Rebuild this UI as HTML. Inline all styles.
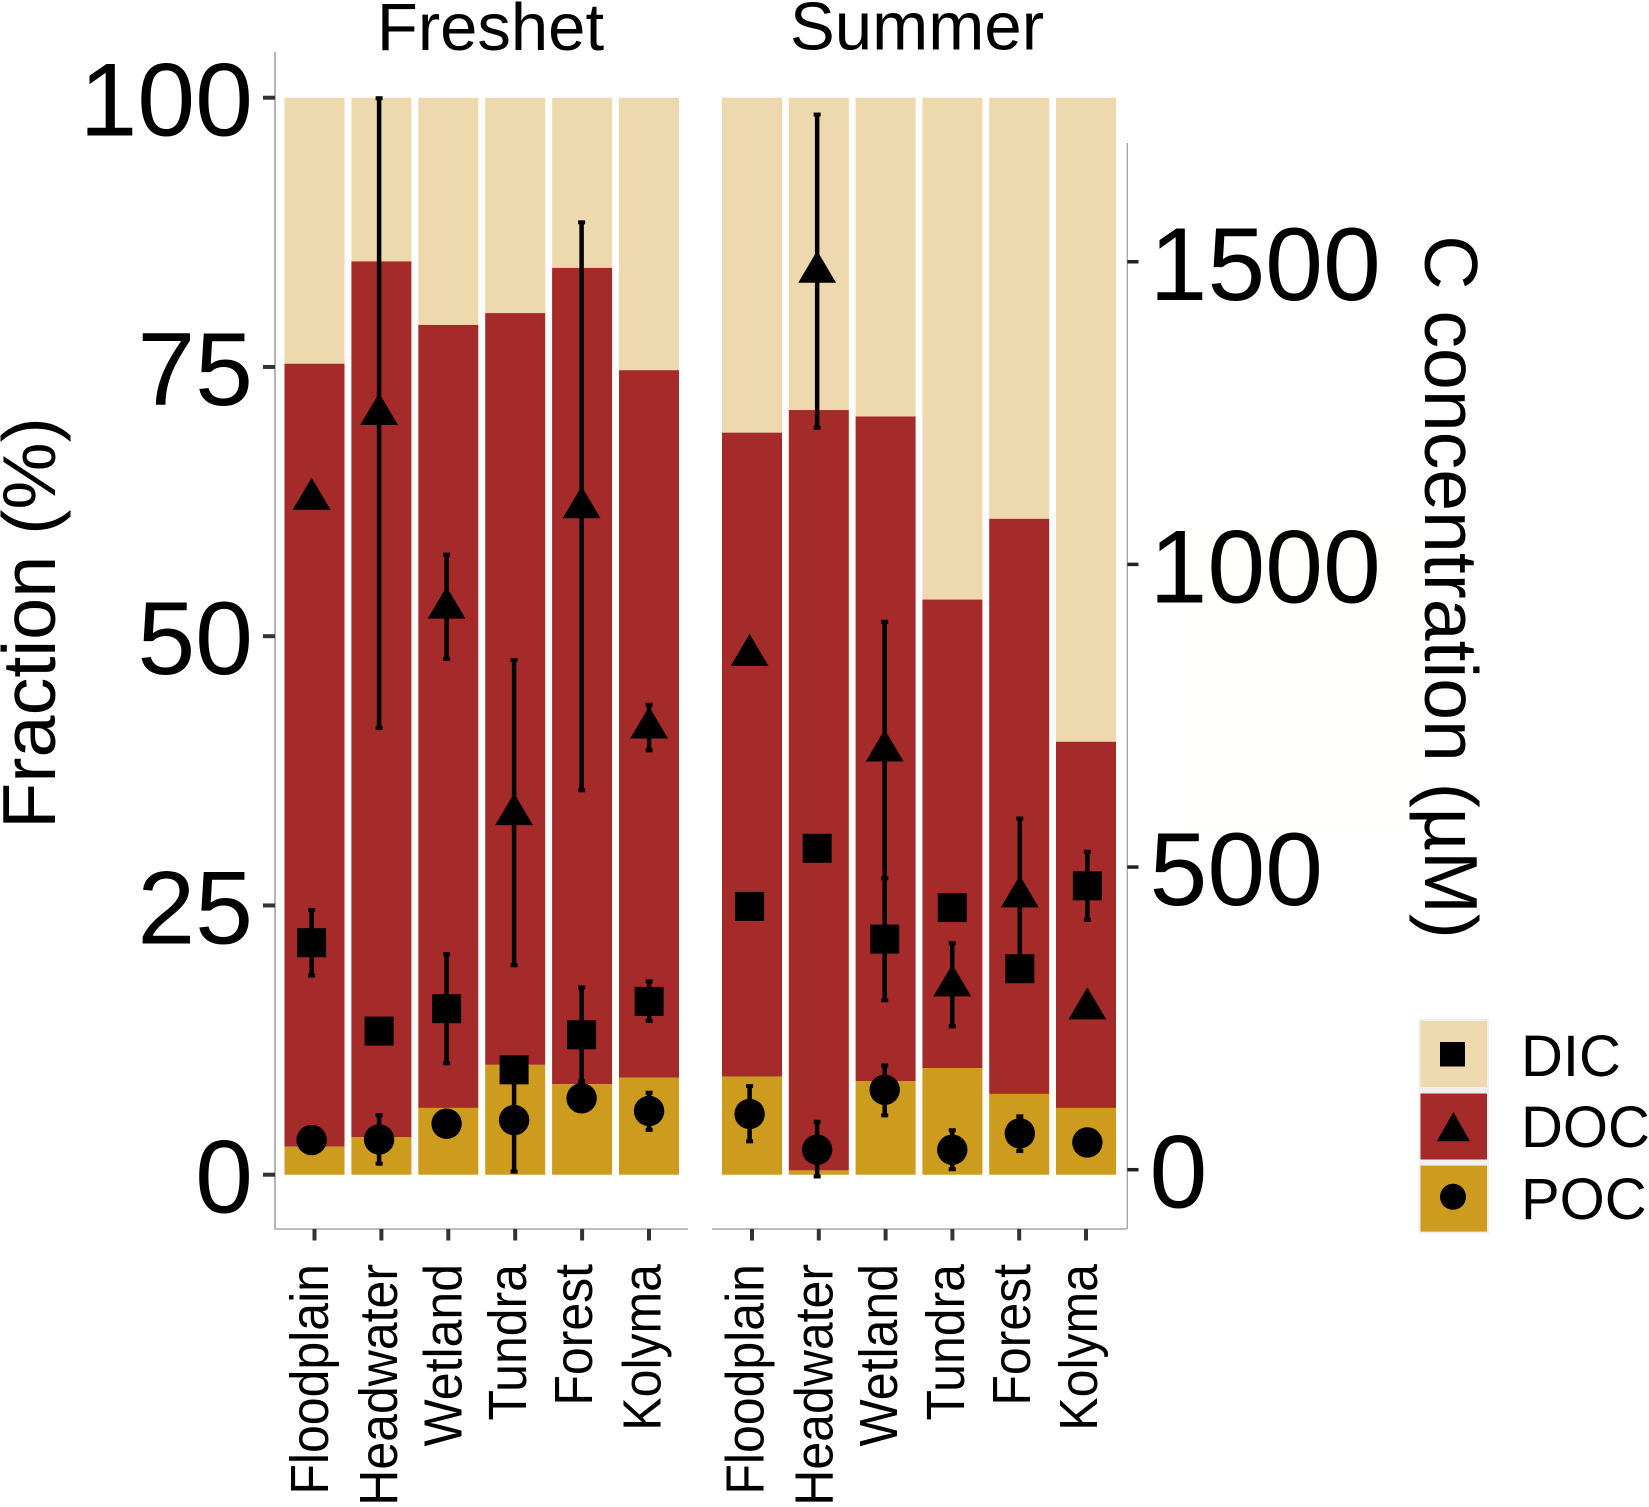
<!DOCTYPE html>
<html lang="en">
<head>
<meta charset="utf-8">
<title>Carbon fractions and concentrations, Freshet and Summer</title>
<style>
html,body{margin:0;padding:0;background:#fff;}
body{width:1649px;height:1507px;overflow:hidden;}
svg{display:block;}
text{font-family:"Liberation Sans",Arial,sans-serif;fill:#000;}
</style>
</head>
<body>
<svg id="chart" xmlns="http://www.w3.org/2000/svg" width="1649" height="1507" viewBox="0 0 1649 1507">
  <rect x="0" y="0" width="1649" height="1507" fill="#ffffff"/>
  <rect x="1183" y="525" width="227" height="305" fill="#fffffc"/>
  <g id="bars"></g>
  <g id="axes">
    <line x1="275" y1="52" x2="275" y2="1229.5" stroke="#b5b5b5" stroke-width="2"/>
    <line x1="275" y1="1229" x2="688" y2="1229" stroke="#a8a8a8" stroke-width="1.6"/>
    <line x1="712" y1="1229" x2="1127" y2="1229" stroke="#a8a8a8" stroke-width="1.6"/>
    <line x1="1127.3" y1="143" x2="1127.3" y2="1229" stroke="#a8a8a8" stroke-width="1.4"/>
  </g>
  <g id="marks"></g>
  <text x="490.5" y="50" font-size="67" text-anchor="middle">Freshet</text>
  <text x="917" y="49.5" font-size="67.3" text-anchor="middle">Summer</text>
  <text transform="translate(55,623) rotate(-90)" font-size="75.6" text-anchor="middle">Fraction (%)</text>
  <text transform="translate(1425,587) rotate(90)" font-size="75.2" text-anchor="middle">C concentration (µM)</text>
  <g id="legend">
    <rect x="1418.5" y="1018.7" width="70.5" height="215" fill="#f0f0f0"/>
    <rect x="1420.5" y="1021" width="66.5" height="66" fill="#EED8AE"/>
    <rect x="1420.5" y="1093.5" width="66.5" height="66" fill="#A52A2A"/>
    <rect x="1420.5" y="1165.6" width="66.5" height="66" fill="#CD9B1D"/>
    <rect x="1440" y="1042" width="25" height="24.5" fill="#000"/>
    <polygon points="1453.4,1112 1470,1141.3 1436.8,1141.3" fill="#000"/>
    <circle cx="1453" cy="1196.8" r="13" fill="#000"/>
    <text x="1521" y="1076" font-size="58">DIC</text>
    <text x="1521" y="1147" font-size="58">DOC</text>
    <text x="1521" y="1219" font-size="58">POC</text>
  </g>
</svg>
<script>
// ---------- data ----------
const categories = ['Floodplain', 'Headwater', 'Wetland', 'Tundra', 'Forest', 'Kolyma'];
const fractionTicks = [0, 25, 50, 75, 100];
const concentrationTicks = [0, 500, 1000, 1500];

// Stacked bar fractions (%)
const freshetPocFraction = [2.6, 3.5, 6.2, 10.2, 8.4, 9.0];
const freshetDocFraction = [72.7, 81.3, 72.7, 69.8, 75.8, 65.7];
const freshetDicFraction = [24.7, 15.2, 21.1, 20.0, 15.8, 25.3];
const summerPocFraction = [9.1, 0.4, 8.7, 9.9, 7.5, 6.2];
const summerDocFraction = [59.8, 70.6, 61.7, 43.5, 53.4, 34.0];
const summerDicFraction = [31.1, 29.0, 29.6, 46.6, 39.1, 59.8];

// Concentrations (uM) with error bar limits (null = no visible error bar)
const freshetDoc = [1108, 1248, 928, 587, 1094, 730];
const freshetDocHigh = [null, 1771, 1017, 843, 1566, 769];
const freshetDocLow = [null, 729, 843, 337, 626, 692];
const freshetDic = [375, 229, 266, 165, 223, 278];
const freshetDicHigh = [430, null, 357, null, 302, 312];
const freshetDicLow = [320, null, 175, null, 145, 245];
const freshetPoc = [49, 50, 76, 82, 118, 97];
const freshetPocHigh = [null, 91, null, 168, null, 128];
const freshetPocLow = [null, 9, null, -4, null, 65];

const summerDoc = [850, 1483, 692, 304, 451, 266];
const summerDocHigh = [null, 1744, 906, 375, 581, null];
const summerDocLow = [null, 1225, 481, 236, 322, null];
const summerDic = [435, 531, 381, 433, 332, 469];
const summerDicHigh = [null, null, 482, null, null, 526];
const summerDicLow = [null, null, 279, null, null, 412];
const summerPoc = [92, 33, 132, 33, 60, 45];
const summerPocHigh = [139, 80, 173, 66, 89, null];
const summerPocLow = [46, -12, 89, 0, 30, null];

// ---------- axis functions ----------
const NS = 'http://www.w3.org/2000/svg';
function yFraction(v) { return 1174.7 - 10.77 * v; }
function yConcentration(c) { return 1169.7 - 0.6053 * c; }
function xBar(panel, i) { return panel === 0 ? 314.5 + 66.9 * i : 752 + 66.8 * i; }
function xMark(panel, i) { return panel === 0 ? 311.6 + 67.5 * i : 749.6 + 67.55 * i; }

const BAR_WIDTH = 60;
const labelShift = [[13.6, 15.6, 13.0, 10.8, 9.8, 11.3], [11.6, 13.6, 11.5, 11.5, 10.7, 10.9]];

const barsLayer = document.getElementById('bars');
const axesLayer = document.getElementById('axes');
const marksLayer = document.getElementById('marks');

function make(tag, parent, attrs) {
  const node = document.createElementNS(NS, tag);
  for (const k in attrs) node.setAttribute(k, attrs[k]);
  parent.appendChild(node);
  return node;
}

// ---------- bars ----------
function drawBars(panel, poc, doc, dic) {
  categories.forEach(function (cat, i) {
    const cx = xBar(panel, i);
    const x = cx - BAR_WIDTH / 2;
    const a = poc[i];
    const b = a + doc[i];
    const c = b + dic[i];
    const top = make('rect', barsLayer, { x: x, y: yFraction(c), width: BAR_WIDTH, height: yFraction(b) - yFraction(c), fill: '#EED8AE' });
    
    
    const mid = make('rect', barsLayer, { x: x, y: yFraction(b), width: BAR_WIDTH, height: yFraction(a) - yFraction(b), fill: '#A52A2A' });
    
    
    const low = make('rect', barsLayer, { x: x, y: yFraction(a), width: BAR_WIDTH, height: yFraction(0) - yFraction(a), fill: '#CD9B1D' });
    
    
  });
}
drawBars(0, freshetPocFraction, freshetDocFraction, freshetDicFraction);
drawBars(1, summerPocFraction, summerDocFraction, summerDicFraction);

// ---------- error bars and markers ----------
function drawError(x, hi, lo) {
  if (hi === null || lo === null) return;
  const yHi = yConcentration(hi);
  const yLo = yConcentration(lo);
  const stem = make('line', marksLayer, { x1: x, x2: x, y1: yHi, y2: yLo, stroke: '#000', 'stroke-width': 4.5 });
  
  
  const capTop = make('rect', marksLayer, { x: x - 3.5, y: yHi - 1.5, width: 7, height: 4, fill: '#000' });
  
  
  const capBottom = make('rect', marksLayer, { x: x - 3.5, y: yLo - 2.5, width: 7, height: 4, fill: '#000' });
  
  
}

function drawPanelMarks(panel, doc, docHi, docLo, dic, dicHi, dicLo, poc, pocHi, pocLo) {
  categories.forEach(function (cat, i) {
    const x = xMark(panel, i);
    drawError(x, docHi[i], docLo[i]);
    drawError(x, dicHi[i], dicLo[i]);
    drawError(x, pocHi[i], pocLo[i]);

    const yd = yConcentration(doc[i]);
    const tri = make('polygon', marksLayer, {
      points: x + ',' + (yd - 21.3) + ' ' + (x + 18.9) + ',' + (yd + 10.7) + ' ' + (x - 18.9) + ',' + (yd + 10.7),
      fill: '#000'
    });
    
    

    const ys = yConcentration(dic[i]);
    const sq = make('rect', marksLayer, { x: x - 14.5, y: ys - 14.5, width: 29, height: 29, fill: '#000' });
    
    

    const yp = yConcentration(poc[i]);
    const dot = make('circle', marksLayer, { cx: x, cy: yp, r: 15.2, fill: '#000' });
    
    
  });
}
drawPanelMarks(0, freshetDoc, freshetDocHigh, freshetDocLow, freshetDic, freshetDicHigh, freshetDicLow, freshetPoc, freshetPocHigh, freshetPocLow);
drawPanelMarks(1, summerDoc, summerDocHigh, summerDocLow, summerDic, summerDicHigh, summerDicLow, summerPoc, summerPocHigh, summerPocLow);

// ---------- axis ticks and labels ----------
fractionTicks.forEach(function (t) {
  const y = yFraction(t);
  const tick = make('line', axesLayer, { x1: 263, x2: 275, y1: y, y2: y, stroke: '#333', 'stroke-width': 4 });
  
  
  const label = make('text', axesLayer, { x: 253, y: y + 38, 'font-size': 104, 'text-anchor': 'end' });
  
  
  label.textContent = String(t);
});

concentrationTicks.forEach(function (t) {
  const y = yConcentration(t);
  const tick = make('line', axesLayer, { x1: 1127.3, x2: 1138.5, y1: y, y2: y, stroke: '#222', 'stroke-width': 3.5 });
  
  
  const label = make('text', axesLayer, { x: 1149.5, y: y + 38, 'font-size': 104 });
  
  
  label.textContent = String(t);
});

[0, 1].forEach(function (panel) {
  categories.forEach(function (cat, i) {
    const x = xBar(panel, i);
    const tick = make('line', axesLayer, { x1: x, x2: x, y1: 1229, y2: 1240.5, stroke: '#333', 'stroke-width': 4 });
    
    
    const label = make('text', axesLayer, {
      transform: 'translate(' + (x + labelShift[panel][i]) + ',1264) rotate(-90) scale(1,1.07)',
      'font-size': 50,
      'text-anchor': 'end'
    });
    
    
    label.textContent = cat;
  });
});
</script>
</body>
</html>
